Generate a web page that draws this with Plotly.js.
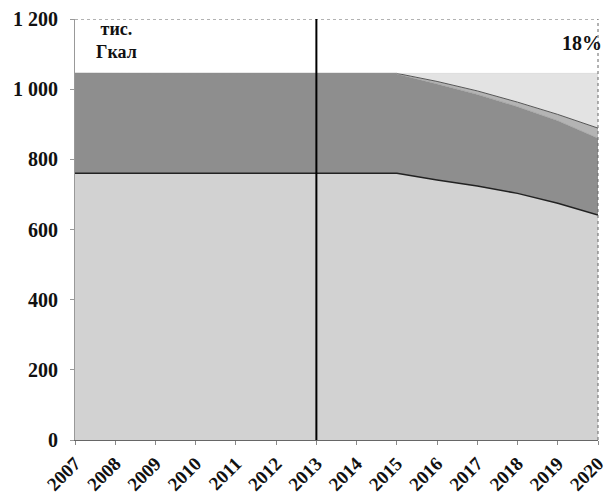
<!DOCTYPE html>
<html>
<head>
<meta charset="utf-8">
<script src="https://cdn.plot.ly/plotly-3.0.1.min.js"></script>
<style>html,body{margin:0;padding:0;background:#fff;}#chart{width:609px;height:497px;}</style>
</head>
<body>
<div id="chart"></div>
<script>
// Data (тис. Гкал), stacked layers
const years = [2007, 2008, 2009, 2010, 2011, 2012, 2013, 2014, 2015, 2016, 2017, 2018, 2019, 2020];
const baseLayer   = [760, 760, 760, 760, 760, 760, 760, 760, 760, 741, 724, 703, 675, 641];
const darkLayer   = [285, 285, 285, 285, 285, 285, 285, 285, 283, 274, 261, 247, 235, 219];
const thinLayer   = [0, 0, 0, 0, 0, 0, 0, 0, 2, 7, 10, 13, 18, 29];
const savingLayer = [0, 0, 0, 0, 0, 0, 0, 0, 0, 23, 50, 82, 117, 156];
const yTickVals = [0, 200, 400, 600, 800, 1000, 1200];
const yTickText = ['0', '200', '400', '600', '800', '1 000', '1 200'];
const xTickText = years.map(String);
const unitLabel = 'тис.<br>Гкал';
const savingLabel = '18%';
const dividerYear = 2013;

const serif = 'Liberation Serif, Times New Roman, serif';

const traces = [
  {x: years, y: baseLayer, type: 'scatter', mode: 'lines', stackgroup: 'one',
   fillcolor: '#d2d2d2', line: {color: '#222', width: 1.5}, hoverinfo: 'skip'},
  {x: years, y: darkLayer, type: 'scatter', mode: 'lines', stackgroup: 'one',
   fillcolor: '#8e8e8e', line: {color: '#8e8e8e', width: 0.5}, hoverinfo: 'skip'},
  {x: years, y: thinLayer, type: 'scatter', mode: 'lines', stackgroup: 'one',
   fillcolor: '#b4b4b4', line: {color: '#555', width: 1}, hoverinfo: 'skip'},
  {x: years, y: savingLayer, type: 'scatter', mode: 'lines', stackgroup: 'one',
   fillcolor: '#e3e3e3', line: {color: '#c8c8c8', width: 0.5}, hoverinfo: 'skip'}
];

const layout = {
  width: 609, height: 497,
  margin: {l: 75, r: 11, t: 19, b: 57},
  paper_bgcolor: '#fff', plot_bgcolor: '#fff',
  showlegend: false,
  font: {family: serif, color: '#111'},
  xaxis: {
    range: [2007, 2020], tickvals: years, ticktext: xTickText, automargin: false,
    tickangle: -45, tickfont: {family: serif, size: 19, weight: 'bold', color: '#111'},
    showgrid: false, zeroline: false, showline: true, linecolor: '#666', linewidth: 1,
    ticks: 'outside', ticklen: 4, tickcolor: '#888', tickwidth: 1
  },
  yaxis: {
    range: [0, 1200], tickvals: yTickVals, ticktext: yTickText, automargin: false,
    tickfont: {family: serif, size: 20, weight: 'bold', color: '#111'},
    showgrid: false, zeroline: false, showline: true, linecolor: '#999', linewidth: 1,
    ticks: 'outside', ticklen: 4, tickcolor: '#999', tickwidth: 1, ticklabelstandoff: 8
  },
  shapes: [
    {type: 'line', xref: 'paper', yref: 'y', x0: 0, x1: 1, y0: 1200, y1: 1200,
     line: {color: '#666', width: 1, dash: 'dot'}},
    {type: 'line', xref: 'paper', yref: 'paper', x0: 1, x1: 1, y0: 0, y1: 1,
     line: {color: '#666', width: 1, dash: 'dot'}},
    {type: 'line', xref: 'x', yref: 'paper', x0: dividerYear, x1: dividerYear, y0: 0, y1: 1,
     line: {color: '#000', width: 2}}
  ],
  annotations: [
    {x: 2008.02, y: 1140, xref: 'x', yref: 'y', text: unitLabel, showarrow: false,
     font: {family: serif, size: 18, weight: 'bold', color: '#111'}, align: 'center'},
    {x: 2019.6, y: 1131, xref: 'x', yref: 'y', text: savingLabel, showarrow: false,
     font: {family: serif, size: 20, weight: 'bold', color: '#111'}}
  ]
};

Plotly.newPlot('chart', traces, layout, {displayModeBar: false, staticPlot: true});
</script>
</body>
</html>
